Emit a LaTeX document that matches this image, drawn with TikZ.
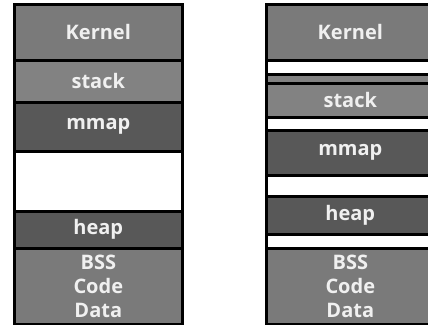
\documentclass[tikz,border=0pt]{standalone}
\usepackage{fontspec}
\setmainfont{Open Sans}
\usepackage{tikz}
\definecolor{midgray}{RGB}{122, 122, 122}
\definecolor{lightgray}{RGB}{130, 130, 130}
\definecolor{darkgray}{RGB}{88, 88, 88}
\tikzset{
  seg/.style={draw=black, line width=2.6pt, anchor=north west, inner sep=0pt,
    minimum width=168pt, text=white!94!black, align=center,
    font=\fontsize{20}{24}\selectfont\bfseries},
  gap/.style={seg, fill=white}
}

\begin{document}
\begin{tikzpicture}[x=1pt,y=-1pt]
                \useasboundingbox (0,0) rectangle (428,324);
                \clip (0,0) rectangle (428,324);
                % plain layout
                \node[seg, fill=midgray, minimum height=56] (lkernel) at (13,3) {Kernel};
                \node[seg, fill=lightgray, minimum height=42] (lstack) at (13,59) {stack};
                \node[seg, fill=darkgray, minimum height=49] (lmmap) at (13,101) {mmap};
                \node[gap, minimum height=60] (lfree) at (13,150) {};
                \node[seg, fill=darkgray, minimum height=37] (lheap) at (13,210) {heap};
                \node[seg, fill=midgray, minimum height=76] (lbss) at (13,247) {BSS\\Code\\Data};
                % randomized layout
                \node[seg, fill=midgray, minimum height=56] (rkernel) at (265,3) {Kernel};
                \node[gap, minimum height=14] (rgapa) at (265,59) {};
                \node[seg, fill=lightgray, minimum height=9] (rstrip) at (265,73) {};
                \node[seg, fill=lightgray, minimum height=34] (rstack) at (265,82) {stack};
                \node[gap, minimum height=13] (rgapb) at (265,116) {};
                \node[seg, fill=darkgray, minimum height=45] (rmmap) at (265,129) {mmap};
                \node[gap, minimum height=21] (rgapc) at (265,174) {};
                \node[seg, fill=darkgray, minimum height=38] (rheap) at (265,195) {heap};
                \node[gap, minimum height=14] (rgapd) at (265,233) {};
                \node[seg, fill=midgray, minimum height=76] (rbss) at (265,247) {BSS\\Code\\Data};
            \end{tikzpicture}
\end{document}
